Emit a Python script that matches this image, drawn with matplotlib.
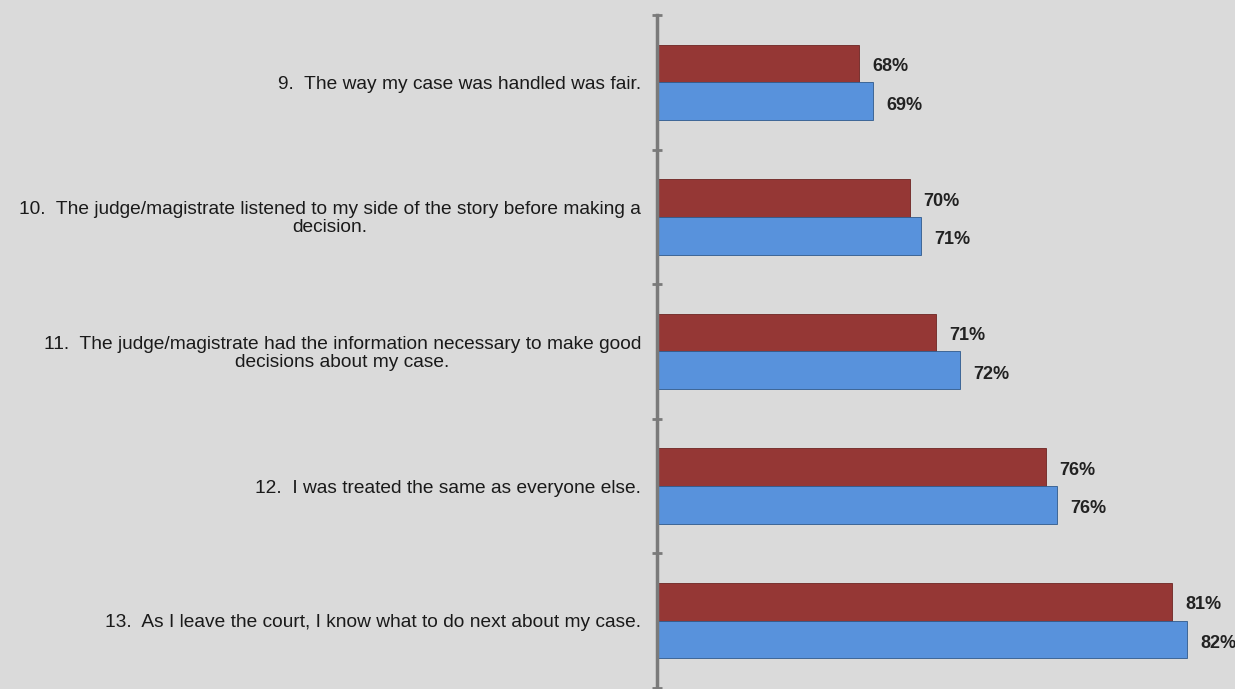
import matplotlib
matplotlib.use("Agg")
import matplotlib.pyplot as plt
import numpy as np

categories = [
    "9.  The way my case was handled was fair.",
    "10.  The judge/magistrate listened to my side of the story before making a\ndecision.",
    "11.  The judge/magistrate had the information necessary to make good\ndecisions about my case.",
    "12.  I was treated the same as everyone else.",
    "13.  As I leave the court, I know what to do next about my case.",
]
red_values = [68.24, 70.33, 71.39, 75.88, 81.02]
blue_values = [68.82, 70.78, 72.37, 76.33, 81.63]
red_labels = ["68%", "70%", "71%", "76%", "81%"]
blue_labels = ["69%", "71%", "72%", "76%", "82%"]

W, H = 1235, 689
BG = "#dadada"
RED = "#953735"
BLUE = "#5892dc"

plt.rcParams['font.family'] = ['Liberation Sans', 'DejaVu Sans']

fig = plt.figure(figsize=(W / 100, H / 100), dpi=100, facecolor=BG)
left_px, top_px, bottom_px = 657, 15, 688
ax = fig.add_axes([left_px / W, (H - bottom_px) / H, (W - left_px) / W, (bottom_px - top_px) / H])
ax.set_facecolor(BG)

n = len(categories)
y = np.arange(n)
h = 0.28
xmin = 60.0
xmax = xmin + (W - left_px) / 24.5

ax.barh(y - h / 2, np.array(red_values) - xmin, left=xmin, height=h, color=RED,
        edgecolor="#6e2422", linewidth=0.6)
ax.barh(y + h / 2, np.array(blue_values) - xmin, left=xmin, height=h, color=BLUE,
        edgecolor="#2f5a8c", linewidth=0.6)

for i in range(n):
    ax.annotate(red_labels[i], xy=(red_values[i], y[i] - h / 2), xytext=(13, -3),
                textcoords="offset pixels", ha="left", va="center",
                fontsize=13, fontweight="bold", color="#222222")
    ax.annotate(blue_labels[i], xy=(blue_values[i], y[i] + h / 2), xytext=(13, -4),
                textcoords="offset pixels", ha="left", va="center",
                fontsize=13, fontweight="bold", color="#222222")
    ax.annotate(categories[i], xy=(0, y[i]), xycoords=("axes fraction", "data"),
                xytext=(-16, -2), textcoords="offset pixels", ha="right", va="center",
                multialignment="center", fontsize=13.8, color="#1a1a1a",
                linespacing=1.08)

ax.set_xlim(xmin, xmax)
ax.set_ylim(n - 0.5, -0.5)
for s in ["top", "right", "bottom"]:
    ax.spines[s].set_visible(False)
ax.spines["left"].set_color("#7a7a7a")
ax.spines["left"].set_linewidth(2.5)
ax.set_xticks([])
ax.set_yticks(np.arange(-0.5, n, 1.0))
ax.set_yticklabels([])
ax.tick_params(axis="y", direction="inout", length=7, width=2, color="#7a7a7a")

fig.savefig("out.png", dpi=100, facecolor=BG)
